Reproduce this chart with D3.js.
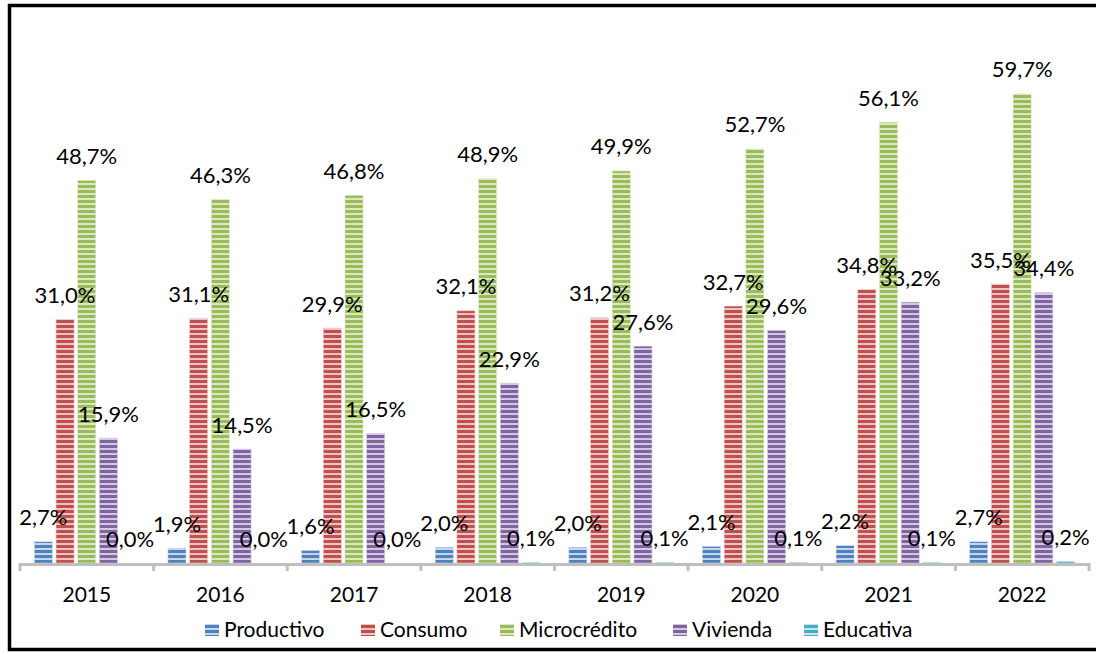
<!DOCTYPE html>
<html>
<head>
<meta charset="utf-8">
<script src="https://cdn.jsdelivr.net/npm/d3@7"></script>
<style>
  body { margin: 0; background: #fff; }
  svg { display: block; }
  text { font-family: Lato, "Open Sans", sans-serif; fill: #000; }
</style>
</head>
<body>
<script>
const years = ['2015', '2016', '2017', '2018', '2019', '2020', '2021', '2022']
const series = ['Productivo', 'Consumo', 'Microcrédito', 'Vivienda', 'Educativa']
const productivo = [2.7, 1.9, 1.6, 2.0, 2.0, 2.1, 2.2, 2.7]
const consumo = [31.0, 31.1, 29.9, 32.1, 31.2, 32.7, 34.8, 35.5]
const microcredito = [48.7, 46.3, 46.8, 48.9, 49.9, 52.7, 56.1, 59.7]
const vivienda = [15.9, 14.5, 16.5, 22.9, 27.6, 29.6, 33.2, 34.4]
const educativa = [0.0, 0.0, 0.0, 0.1, 0.1, 0.1, 0.1, 0.2]

const values = [productivo, consumo, microcredito, vivienda, educativa]
const colors = ['#4f81bd', '#c0504d', '#9bbb59', '#8064a2', '#4bacc6']
const lights = ['#c6d6ec', '#edc4c3', '#dbe8c4', '#d3c8e1', '#c3e5ee']

const width = 1096
const height = 653

const svg = d3.select('body').append('svg')
  .attr('width', width)
  .attr('height', height)

// striped fills
const defs = svg.append('defs')
series.forEach((s, i) => {
  const p = defs.append('pattern')
    .attr('id', 'stripe' + i)
    .attr('patternUnits', 'userSpaceOnUse')
    .attr('width', 10)
    .attr('height', 5)
  p.append('rect').attr('width', 10).attr('height', 5).attr('fill', colors[i])
  p.append('rect').attr('y', 3).attr('width', 10).attr('height', 2).attr('fill', lights[i])
})

const x0 = d3.scaleBand()
  .domain(years)
  .range([20, 1089])

const x1 = d3.scaleBand()
  .domain(series)
  .range([12.5, 121])
  .paddingInner(0.17)
  .paddingOuter(0.085)

const y = d3.scaleLinear()
  .domain([0, 70])
  .range([563, 13])

const fmt = v => d3.format('.1f')(v).replace('.', ',') + '%'

const groups = svg.selectAll('g.year')
  .data(years)
  .enter()
  .append('g')
  .attr('class', 'year')
  .attr('transform', d => `translate(${x0(d)},0)`)

series.forEach((s, i) => {
  groups.append('rect')
    .attr('x', x1(s))
    .attr('width', x1.bandwidth())
    .attr('y', (d, j) => y(values[i][j]))
    .attr('height', (d, j) => y(0) - y(values[i][j]))
    .attr('fill', `url(#stripe${i})`)
    .attr('stroke', lights[i])
    .attr('stroke-width', 0.6)
})

series.forEach((s, i) => {
  groups.append('text')
    .attr('x', x1(s) + x1.bandwidth() / 2)
    .attr('y', (d, j) => y(values[i][j]) - 16.5)
    .attr('text-anchor', 'middle')
    .style('font-size', '22px')
    .text((d, j) => fmt(values[i][j]))
})

// axis
const axis = svg.append('g')
  .attr('transform', `translate(0,${y(0) + 1})`)
  .call(d3.axisBottom(x0).tickSize(0).tickPadding(23))

axis.select('.domain').attr('stroke', '#bfbfbf').attr('stroke-width', 3)
axis.selectAll('text').style('font-size', '21px').style('font-family', 'Lato, sans-serif')

svg.append('g')
  .selectAll('line')
  .data(years.map(d => x0(d)).concat([x0.range()[1]]))
  .enter()
  .append('line')
  .attr('x1', d => d)
  .attr('x2', d => d)
  .attr('y1', y(0))
  .attr('y2', y(0) + 8)
  .attr('stroke', '#bfbfbf')
  .attr('stroke-width', 3)

// legend
const legendX = [205, 361, 500, 673, 804]
const legend = svg.append('g')
series.forEach((s, i) => {
  legend.append('rect')
    .attr('x', legendX[i])
    .attr('y', 624)
    .attr('width', 14)
    .attr('height', 12)
    .attr('fill', `url(#stripe${i})`)
  legend.append('text')
    .attr('x', legendX[i] + 19)
    .attr('y', 637)
    .style('font-size', '21px')
    .text(s)
})

// frame
svg.append('rect')
  .attr('x', 9.5)
  .attr('y', 5.5)
  .attr('width', 1100)
  .attr('height', 644)
  .attr('fill', 'none')
  .attr('stroke', '#000')
  .attr('stroke-width', 3.5)
</script>
</body>
</html>
